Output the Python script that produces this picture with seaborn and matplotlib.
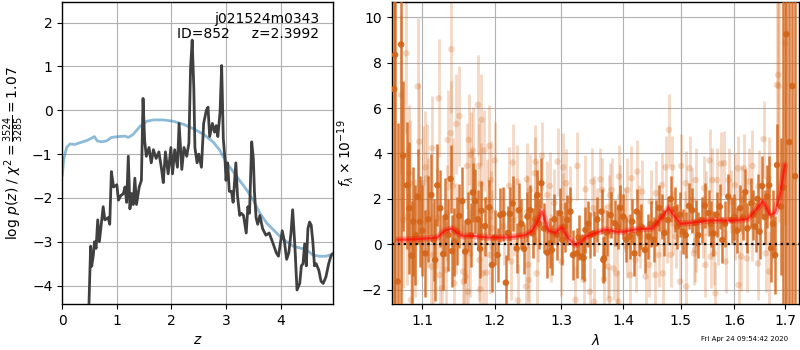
import matplotlib
matplotlib.use("Agg")
import matplotlib.pyplot as plt
from matplotlib.ticker import NullLocator, FixedLocator, FixedFormatter
import pandas as pd
import seaborn as sns

# ---------------- redshift probability ----------------
z_grid = [0.47, 0.49, 0.52, 0.54, 0.57, 0.59, 0.62, 0.65, 0.68, 0.75, 0.78, 0.84, 0.87,
          0.90, 0.94, 1.00, 1.03, 1.07, 1.12, 1.15, 1.18, 1.21, 1.24, 1.27, 1.30, 1.33,
          1.36, 1.41, 1.45, 1.48, 1.51, 1.54, 1.59, 1.63, 1.67, 1.72, 1.77, 1.82, 1.85,
          1.89, 1.94, 1.99, 2.02, 2.06, 2.11, 2.14, 2.19, 2.23, 2.28, 2.32, 2.35, 2.38,
          2.41, 2.43, 2.47, 2.50, 2.55, 2.59, 2.64, 2.67, 2.70, 2.75, 2.79, 2.82, 2.85,
          2.89, 2.92, 2.95, 2.98, 3.00, 3.03, 3.06, 3.10, 3.13, 3.18, 3.21, 3.25, 3.28,
          3.32, 3.37, 3.40, 3.43, 3.47, 3.50, 3.52, 3.55, 3.58, 3.62, 3.67, 3.73, 3.79,
          3.85, 3.92, 3.96, 4.03, 4.07, 4.11, 4.15, 4.19, 4.22, 4.26, 4.30, 4.35, 4.38,
          4.41, 4.44, 4.47, 4.50, 4.53, 4.56, 4.59, 4.62, 4.65, 4.70, 4.74, 4.78, 4.83,
          4.88, 4.92, 4.95]
log_pz = [-5.5, -4.4, -3.1, -3.56, -3.3, -3.0, -3.15, -2.5, -3.0, -2.2, -2.5, -2.45, -2.6,
          -1.4, -1.75, -1.7, -2.05, -1.95, -1.9, -1.75, -2.1, -1.05, -2.25, -1.9, -2.15, -1.55,
          -2.15, -1.75, -1.6, 0.27, -0.7, -1.05, -0.85, -1.2, -0.9, -1.1, -0.95, -1.35, -1.65,
          -0.95, -1.45, -0.85, -1.45, -0.9, -1.3, -0.3, -1.35, -0.85, -1.05, -0.75, 0.95, 1.6,
          0.5, -0.85, -1.2, -1.0, -1.3, -0.3, 0.0, 0.07, -0.6, -0.3, -0.5, -0.35, -0.6,
          -0.05, 1.02, -0.65, -1.1, -1.6, -1.2, -1.85, -1.85, -2.1, -1.2, -1.95, -2.4, -2.35,
          -2.4, -2.8, -2.2, -2.35, -0.72, -1.1, -1.85, -2.45, -2.6, -2.4, -2.7, -2.85, -2.8,
          -3.0, -3.25, -3.33, -2.75, -3.0, -3.4, -3.25, -2.8, -2.27, -3.07, -4.1, -3.95, -3.55,
          -3.5, -3.05, -3.55, -2.7, -2.55, -2.62, -3.0, -3.55, -3.5, -3.65, -3.9, -3.95, -3.8,
          -3.5, -3.33, -3.27]

z_prior = [0.0, 0.03, 0.08, 0.14, 0.23, 0.35, 0.47, 0.59, 0.64, 0.72, 0.81, 0.90, 1.03,
           1.15, 1.21, 1.30, 1.43, 1.55, 1.67, 1.85, 2.03, 2.22, 2.40, 2.59, 2.77, 2.89,
           3.01, 3.13, 3.26, 3.38, 3.50, 3.62, 3.75, 3.87, 3.99, 4.11, 4.23, 4.35, 4.47,
           4.59, 4.71, 4.83, 4.96]
log_prior = [-1.5, -1.1, -0.85, -0.77, -0.78, -0.73, -0.68, -0.6, -0.7, -0.72, -0.7, -0.62,
             -0.6, -0.59, -0.62, -0.55, -0.36, -0.25, -0.22, -0.22, -0.25, -0.32, -0.42,
             -0.55, -0.73, -0.92, -1.2, -1.4, -1.62, -1.82, -2.05, -2.35, -2.58, -2.73,
             -2.88, -3.0, -3.1, -3.14, -3.18, -3.3, -3.33, -3.33, -3.28]

# ---------------- grism spectrum ----------------
# weighted (dark) points: wavelength [um], flux, uncertainty
wave_w = [1.0633, 1.0646, 1.068, 1.0724, 1.075, 1.083, 1.088, 1.091, 1.097, 1.104, 1.112,
          1.117, 1.124, 1.128, 1.135, 1.138, 1.143, 1.150, 1.158, 1.162, 1.169, 1.176,
          1.181, 1.192, 1.196, 1.204, 1.208, 1.212, 1.216, 1.222, 1.232, 1.239, 1.248,
          1.256, 1.263, 1.269, 1.273, 1.278, 1.282, 1.285, 1.293, 1.298, 1.305, 1.314,
          1.318, 1.324, 1.332, 1.338, 1.346, 1.364, 1.367, 1.368, 1.379, 1.386, 1.400,
          1.411, 1.419, 1.423, 1.431, 1.437, 1.443, 1.457, 1.466, 1.477, 1.489, 1.494,
          1.504, 1.515, 1.527, 1.538, 1.551, 1.560, 1.572, 1.577, 1.588, 1.595, 1.611,
          1.625, 1.633, 1.641, 1.649, 1.654, 1.664, 1.672, 1.680, 1.684, 1.692, 1.697,
          1.703, 1.709, 1.715, 1.721,
          1.080, 1.086, 1.094, 1.100, 1.108, 1.115, 1.120, 1.131, 1.140, 1.147, 1.154,
          1.166, 1.172, 1.179, 1.186, 1.200, 1.219, 1.226, 1.235, 1.243, 1.252, 1.260,
          1.266, 1.289, 1.301, 1.309, 1.327, 1.335, 1.342, 1.351, 1.357, 1.373, 1.391,
          1.395, 1.405, 1.415, 1.427, 1.447, 1.452, 1.462, 1.471, 1.482, 1.499, 1.509,
          1.521, 1.532, 1.544, 1.555, 1.566, 1.582, 1.600, 1.605, 1.617, 1.621, 1.637,
          1.645, 1.659, 1.668, 1.676]
flux_w = [6.83, 8.34, -1.64, 8.8, 3.9, 1.59, 1.0, 0.41, 1.0, -0.40, 2.17,
          -0.69, 1.59, -0.43, 0.41, 2.88, 0.12, 1.25, -0.32, 1.0, 2.28, 1.10,
          1.48, 1.63, -0.91, -0.47, 1.29, 1.34, -1.69, 1.34, -0.18, 0.90, 1.22,
          0.48, 2.17, 2.69, 0.70, -0.37, 0.04, -0.25, 0.41, 1.37, 0.78, 1.44,
          -0.47, -0.40, -0.54, 0.63, 0.41, 1.44, -0.69, -0.62, 1.29, 0.93, 1.22,
          0.34, -0.40, 1.44, 0.78, -0.25, 0.34, 0.93, 1.22, 1.07, 1.54, 0.78,
          0.56, 1.69, 0.93, 1.07, 1.37, 0.48, 1.66, 0.19, 2.10, 1.07, 1.59,
          0.70, 1.81, 0.78, 0.56, 2.57, 2.10, -0.18, -0.47, 3.49, 1.66, 2.5,
          9.25, 4.5, 6.97, 3.0,
          2.6, -0.5, 2.1, 0.6, 1.1, 0.2, 2.6, 1.2, -0.3, 0.6, 1.9,
          0.4, 1.9, -0.2, 0.8, 0.3, 0.5, 1.8, 1.5, -0.2, 1.5, 1.1,
          0.9, 1.1, 0.2, 1.07, 0.3, -0.6, 0.9, 0.48, 1.1, 0.5, 0.78,
          1.6, 0.2, 1.0, 0.48, 0.9, 0.2, 1.6, 0.5, 2.0, 1.3, 0.4,
          1.5, 0.4, 1.7, 0.9, 1.3, 0.9, 1.2, 0.6, 1.2, 2.3, 1.3,
          2.0, 1.2, 2.6, 0.9]
err_w = [15.0, 15.0, 7.0, 15.0, 3.3, 2.9, 2.4, 2.2, 2.0, 1.9, 1.8,
         1.8, 1.7, 1.6, 1.6, 1.5, 1.5, 1.4, 1.4, 1.3, 1.3, 1.3,
         1.3, 1.2, 1.2, 1.2, 1.2, 1.2, 1.2, 1.2, 1.1, 1.1, 1.1,
         1.1, 1.1, 1.1, 1.1, 1.1, 1.1, 1.1, 1.1, 1.1, 1.1, 1.1,
         1.1, 1.1, 1.0, 1.0, 1.0, 1.0, 1.0, 1.0, 1.0, 1.0, 1.0,
         1.0, 1.0, 1.0, 1.0, 1.0, 1.0, 1.0, 1.0, 1.0, 1.0, 1.0,
         1.0, 1.0, 1.0, 1.0, 1.0, 1.0, 1.0, 1.0, 1.0, 1.0, 1.0,
         1.1, 1.1, 1.1, 1.2, 1.3, 1.4, 1.5, 1.7, 1.8, 3.0, 10.0,
         15.0, 15.0, 15.0, 15.0,
         2.8, 2.4, 2.1, 2.0, 1.9, 1.8, 1.8, 1.7, 1.6, 1.5, 1.5,
         1.4, 1.4, 1.3, 1.3, 1.2, 1.2, 1.2, 1.2, 1.1, 1.1, 1.1,
         1.1, 1.1, 1.1, 1.1, 1.0, 1.0, 1.0, 1.0, 1.0, 1.0, 1.0,
         1.0, 1.0, 1.0, 1.0, 1.0, 1.0, 1.0, 1.0, 1.0, 1.0, 1.0,
         1.0, 1.0, 1.0, 1.0, 1.0, 1.0, 1.0, 1.0, 1.0, 1.0, 1.1,
         1.1, 1.2, 1.3, 1.5]

# individual beam (light) points
wave_b = [1.072, 1.075, 1.079, 1.080, 1.083, 1.084, 1.085, 1.091, 1.094, 1.096, 1.101,
          1.104, 1.106, 1.107, 1.112, 1.113, 1.114, 1.120, 1.122, 1.123, 1.126, 1.132,
          1.133, 1.134, 1.138, 1.139, 1.141, 1.143, 1.145, 1.146, 1.150, 1.155, 1.156,
          1.159, 1.161, 1.162, 1.163, 1.165, 1.166, 1.167, 1.169, 1.170, 1.176, 1.177,
          1.178, 1.179, 1.180, 1.181, 1.183, 1.185, 1.188, 1.189, 1.192, 1.193, 1.194,
          1.195, 1.196, 1.200, 1.213, 1.221, 1.224, 1.226, 1.228, 1.233, 1.234, 1.246,
          1.247, 1.248, 1.249, 1.250, 1.252, 1.259, 1.260, 1.262, 1.263, 1.264, 1.270,
          1.278, 1.282, 1.283, 1.289, 1.294, 1.300, 1.302, 1.303, 1.307, 1.313, 1.322,
          1.325, 1.335, 1.338, 1.345, 1.349, 1.351, 1.352, 1.357, 1.362, 1.365, 1.368,
          1.370, 1.375, 1.376, 1.377, 1.378, 1.381, 1.384, 1.389, 1.392, 1.393, 1.395,
          1.403, 1.406, 1.407, 1.412, 1.414, 1.421, 1.424, 1.426, 1.429, 1.432, 1.438,
          1.444, 1.447, 1.455, 1.456, 1.461, 1.467, 1.468, 1.473, 1.476, 1.479, 1.482,
          1.485, 1.486, 1.491, 1.499, 1.501, 1.508, 1.509, 1.510, 1.516, 1.521, 1.524,
          1.526, 1.527, 1.528, 1.540, 1.543, 1.545, 1.546, 1.553, 1.555, 1.558, 1.561,
          1.564, 1.567, 1.568, 1.574, 1.580, 1.583, 1.589, 1.594, 1.601, 1.602, 1.607,
          1.608, 1.613, 1.615, 1.618, 1.624, 1.628, 1.634, 1.635, 1.646, 1.647, 1.657,
          1.661, 1.667, 1.668, 1.684, 1.686, 1.687, 1.700]
flux_b = [6.58, 1.07, 8.41, 1.22, 3.13, 2.69, -2.45, 0.26, 6.95, 4.52, 2.69,
          3.39, 2.91, 1.40, -0.98, 4.23, -0.47, 1.15, 6.43, -1.35, -1.94, -1.13,
          1.37, 4.60, 4.89, 8.59, 2.57, -1.72, 0.70, 5.30, 5.65, -1.20, -1.64,
          -1.42, 3.45, -2.09, 4.60, -0.40, 3.94, 2.28, 4.13, 1.95, 6.14, 3.45,
          -0.69, -1.98, 2.66, 5.48, -1.28, 4.13, -1.25, 1.95, 4.33, -0.47, 2.83,
          1.51, 0.70, 3.69, 0.78, 2.57, -0.76, 3.60, 1.07, 2.76, -2.48, -1.86,
          2.86, 1.44, -0.91, -1.57, 2.39, 3.13, 3.64, -1.28, 2.17, 0.70, 3.89,
          2.17, 2.57, -0.18, 1.81, 3.64, -0.76, 1.66, 3.39, 2.69, 1.95, -2.45,
          3.45, -1.57, 2.42, -2.09, 2.76, 1.59, -2.53, 1.07, 2.86, 2.39, -1.54,
          0.34, -0.98, 1.66, -2.42, 2.17, 2.39, -1.06, -1.28, -2.53, 2.98, 2.10,
          1.07, -0.10, 2.39, -1.35, 2.91, -0.69, 3.20, 1.22, 0.34, 2.32, -1.42,
          -0.91, 1.88, -1.35, 2.25, -0.47, 2.61, -1.28, 3.39, 0.56, 5.04, -0.47,
          3.39, 0.93, 0.34, -1.64, 3.45, 0.93, 2.69, -1.86, 3.35, 1.95, -0.40,
          -0.25, 2.83, 0.19, 0.78, 2.47, -0.91, 1.81, 3.69, -0.54, 2.83, -0.40,
          -2.16, 2.83, 0.48, 3.54, 3.57, -0.76, 2.83, 1.88, 2.61, 0.70, 3.35,
          -1.79, -0.54, 1.95, 3.35, -0.62, 2.76, 0.78, 3.45, -0.84, 2.54, 4.63,
          -0.40, 2.91, -1.20, 7.02, 7.46, 6.97, 8.85]
err_b = [3.5, 3.0, 3.5, 3.0, 3.0, 2.8, 2.8, 2.6, 3.0, 2.6, 2.5,
         2.5, 2.4, 2.4, 2.3, 2.3, 2.3, 2.2, 2.6, 2.2, 2.2, 2.1,
         2.1, 2.2, 2.3, 2.8, 2.1, 2.0, 2.0, 2.2, 2.2, 2.0, 2.0,
         2.0, 1.9, 1.9, 2.0, 1.9, 1.9, 1.9, 1.9, 1.9, 2.2, 1.9,
         1.8, 1.8, 1.8, 2.0, 1.8, 1.8, 1.8, 1.8, 1.8, 1.7, 1.7,
         1.7, 1.7, 1.7, 1.7, 1.7, 1.7, 1.7, 1.6, 1.6, 1.6, 1.6,
         1.6, 1.6, 1.6, 1.6, 1.6, 1.6, 1.6, 1.6, 1.5, 1.5, 1.5,
         1.5, 1.5, 1.5, 1.5, 1.5, 1.5, 1.5, 1.5, 1.5, 1.5, 1.5,
         1.5, 1.5, 1.5, 1.5, 1.5, 1.4, 1.5, 1.4, 1.4, 1.4, 1.4,
         1.4, 1.4, 1.4, 1.4, 1.4, 1.4, 1.4, 1.4, 1.4, 1.4, 1.4,
         1.4, 1.4, 1.4, 1.4, 1.4, 1.4, 1.4, 1.4, 1.4, 1.4, 1.4,
         1.4, 1.4, 1.4, 1.4, 1.4, 1.4, 1.4, 1.4, 1.4, 1.6, 1.4,
         1.4, 1.4, 1.4, 1.4, 1.4, 1.4, 1.4, 1.4, 1.4, 1.4, 1.4,
         1.4, 1.4, 1.4, 1.4, 1.4, 1.4, 1.4, 1.4, 1.4, 1.4, 1.4,
         1.4, 1.4, 1.4, 1.4, 1.4, 1.4, 1.4, 1.4, 1.4, 1.4, 1.4,
         1.5, 1.5, 1.5, 1.5, 1.5, 1.5, 1.5, 1.6, 1.6, 1.6, 1.7,
         1.7, 1.8, 1.8, 5.0, 5.0, 6.0, 8.0]

# best-fit model
wave_m = [1.068, 1.090, 1.110, 1.120, 1.130, 1.140, 1.145, 1.155, 1.165, 1.175, 1.190,
          1.220, 1.245, 1.255, 1.265, 1.270, 1.280, 1.290, 1.300, 1.310, 1.322, 1.330,
          1.340, 1.360, 1.370, 1.390, 1.400, 1.420, 1.450, 1.470, 1.478, 1.490, 1.500,
          1.520, 1.550, 1.600, 1.625, 1.645, 1.655, 1.670, 1.680, 1.690, 1.700]
flux_m = [0.2, 0.22, 0.27, 0.3, 0.6, 0.7, 0.55, 0.35, 0.38, 0.35, 0.3,
          0.3, 0.4, 0.6, 1.1, 1.45, 0.6, 0.5, 0.75, 0.3, -0.05, 0.1,
          0.35, 0.55, 0.65, 0.55, 0.55, 0.65, 0.7, 1.3, 1.6, 1.2, 0.9,
          0.95, 1.05, 1.05, 1.1, 1.6, 1.9, 1.3, 1.4, 2.2, 3.5]

z_ticks = [0, 1, 2, 3, 4]
pz_ticks = [-4, -3, -2, -1, 0, 1, 2]
wave_ticks = [1.1, 1.2, 1.3, 1.4, 1.5, 1.6, 1.7]
flux_ticks = [-2, 0, 2, 4, 6, 8, 10]

# ---------------- style ----------------
sns.set_style("ticks", {"axes.grid": True, "grid.color": "#b0b0b0",
                        "grid.linestyle": "-", "axes.edgecolor": "black",
                        "axes.labelcolor": "black", "text.color": "black",
                        "xtick.color": "black", "ytick.color": "black"})
plt.rcParams["font.family"] = ["DejaVu Sans"]
plt.rcParams["grid.linewidth"] = 0.8
plt.rcParams["axes.linewidth"] = 1.0

orange = "#d4661a"

fig = plt.figure(figsize=(8, 3.5), dpi=100)
ax1 = fig.add_axes([0.0778, 0.1314, 0.3385, 0.8629])
ax2 = fig.add_axes([0.4896, 0.1314, 0.5095, 0.8629])

# left: p(z)
pz_df = pd.DataFrame({"z": z_grid, "lnp": log_pz})
pr_df = pd.DataFrame({"z": z_prior, "lnp": log_prior})
sns.lineplot(data=pr_df, x="z", y="lnp", ax=ax1, color="tab:blue", alpha=0.5,
             linewidth=2, sort=False, zorder=2)
sns.lineplot(data=pz_df, x="z", y="lnp", ax=ax1, color="0.25", linewidth=2,
             sort=False, zorder=3)
ax1.set_xlim(0, 4.96)
ax1.set_ylim(-4.42, 2.47)
ax1.set_xticks(z_ticks)
ax1.set_yticks(pz_ticks)
ax1.set_xlabel(r"$z$")
ax1.set_ylabel(r"log $p(z)$ / $\chi^2=\frac{3524}{3285}=1.07$")
ax1.text(0.948, 0.968, "j021524m0343\nID=852     z=2.3992", transform=ax1.transAxes,
         ha="right", va="top", fontsize=10, linespacing=1.1)

# right: spectrum
ax2.set_xscale("log")
ax2.errorbar(wave_b, flux_b, yerr=err_b, fmt="none", ecolor=orange, alpha=0.25,
             elinewidth=2.0, zorder=2)
sns.scatterplot(x=wave_b, y=flux_b, ax=ax2, color=orange, alpha=0.25, s=22,
                edgecolor="none", zorder=2)
ax2.errorbar(wave_w, flux_w, yerr=err_w, fmt="none", ecolor=orange, alpha=0.85,
             elinewidth=1.8, zorder=3)
sns.scatterplot(x=wave_w, y=flux_w, ax=ax2, color=orange, alpha=0.95, s=22,
                edgecolor="none", zorder=3)
ax2.axhline(0, color="black", linestyle=":", linewidth=1.6, zorder=4)
sns.lineplot(x=wave_m, y=flux_m, ax=ax2, color="red", alpha=0.3, linewidth=4.5,
             sort=False, zorder=5)
sns.lineplot(x=wave_m, y=flux_m, ax=ax2, color="red", alpha=0.6, linewidth=1.6,
             sort=False, zorder=6)
ax2.set_xlim(1.0603, 1.7295)
ax2.set_ylim(-2.63, 10.67)
ax2.xaxis.set_major_locator(FixedLocator(wave_ticks))
ax2.xaxis.set_major_formatter(FixedFormatter([f"{w:.1f}" for w in wave_ticks]))
ax2.xaxis.set_minor_locator(NullLocator())
ax2.set_yticks(flux_ticks)
ax2.set_xlabel(r"$\lambda$")
ax2.set_ylabel(r"$f_\lambda \times 10^{-19}$")

fig.text(0.985, 0.03, "Fri Apr 24 09:54:42 2020", ha="right", va="center", fontsize=5)

fig.savefig("out.png", dpi=100)
